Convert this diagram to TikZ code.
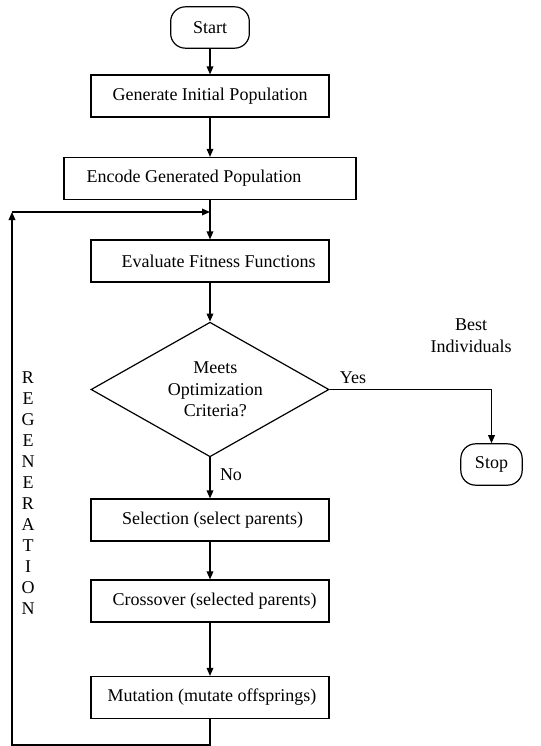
\documentclass[tikz,border=0pt]{standalone}
\usepackage{fontspec}
\setmainfont{Liberation Serif}
\usetikzlibrary{shapes.geometric,arrows.meta}
\tikzset{>={Triangle[length=6pt,width=5pt]}}
\tikzset{
  every node/.style={font=\fontsize{13.5}{16}\selectfont},
  stepbox/.style={draw,line width=0.9pt,minimum width=178.5pt,minimum height=31.5pt,inner sep=0pt},
  terminal/.style={draw,line width=0.9pt,rounded corners=11pt,minimum height=31pt,inner sep=0pt},
  decision/.style={draw,diamond,line width=0.9pt,aspect=1.76,minimum width=178.5pt,minimum height=101pt,inner sep=0pt,align=center},
  flow/.style={->,line width=0.9pt}
}

\begin{document}
\begin{tikzpicture}[x=0.75pt,y=-0.75pt]
    \useasboundingbox (0,0) rectangle (541,746);
    \node[terminal,minimum width=59pt](start) at (210,27.5) {Start};
    \node[stepbox](generate) at (210,96) {Generate Initial Population};
    \node[stepbox,minimum width=219pt](encode) at (210,178.5) {Encode Generated Population\kern24pt};
    \node[stepbox](evaluate) at (210,261) {\kern13pt Evaluate Fitness Functions};
    \node[decision](meets) at (210,389.5) {\kern8pt Meets\\\kern8pt Optimization\\\kern8pt Criteria?};
    \node[stepbox](selection) at (210,520) {\kern4pt Selection (select parents)};
    \node[stepbox](crossover) at (210,601) {\kern7pt Crossover (selected parents)};
    \node[stepbox](mutation) at (210,697.5) {\kern3pt Mutation (mutate offsprings)};
    \node[terminal,minimum width=46pt](stop) at (491.5,464.5) {Stop};
    \node[align=center,font=\fontsize{13.5}{16.5}\selectfont](best) at (471,336) {Best\\Individuals};
    \node(yes) at (353,378) {Yes};
    \node(no) at (231,475) {No};
    \node[align=center,font=\fontsize{13.5}{15.75}\selectfont](regen) at (28,493.5)
        {R\\E\\G\\E\\N\\E\\R\\A\\T\\I\\O\\N};
    \coordinate (join) at (210,212);
    \coordinate (loopB) at (210,745);
    \coordinate (loopC) at (12,212);
    \draw[flow] (start) -- (generate);
    \draw[flow] (generate) -- (encode);
    \draw[flow] (encode) -- (evaluate);
    \draw[flow] (evaluate) -- (meets);
    \draw[flow] (meets.east) -| (stop.north);
    \draw[flow] (meets) -- (selection);
    \draw[flow] (selection) -- (crossover);
    \draw[flow] (crossover) -- (mutation);
    \draw[flow] (mutation.south) -- (loopB) -| (loopC);
    \draw[flow] (loopC) -- (join);
\end{tikzpicture}
\end{document}
